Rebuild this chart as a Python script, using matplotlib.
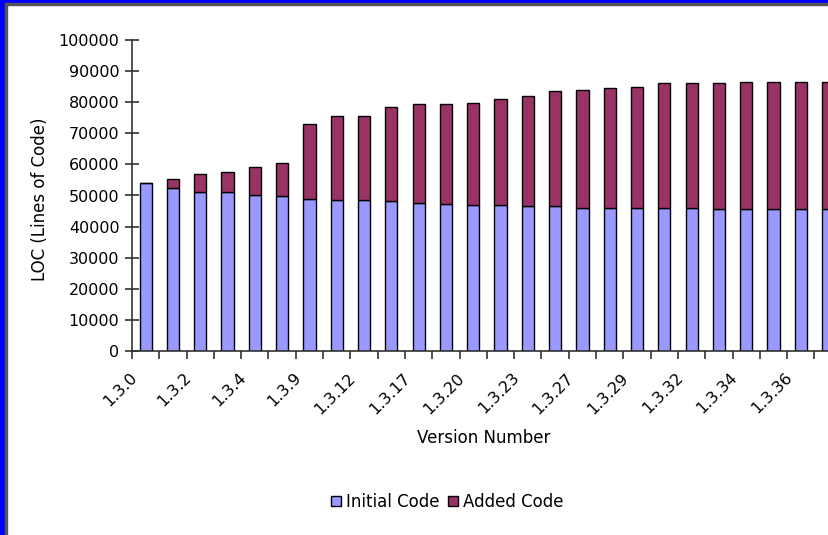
import numpy as np
import matplotlib.pyplot as plt
from matplotlib.patches import Rectangle
from matplotlib.transforms import ScaledTranslation

versions = ['1.3.0', '1.3.1', '1.3.2', '1.3.3', '1.3.4', '1.3.8', '1.3.9', '1.3.10',
            '1.3.12', '1.3.15', '1.3.17', '1.3.19', '1.3.20', '1.3.22', '1.3.23', '1.3.26',
            '1.3.27', '1.3.28', '1.3.29', '1.3.31', '1.3.32', '1.3.33', '1.3.34', '1.3.35',
            '1.3.36', '1.3.37']
shown = ['1.3.0', '1.3.2', '1.3.4', '1.3.9', '1.3.12', '1.3.17', '1.3.20', '1.3.23',
         '1.3.27', '1.3.29', '1.3.32', '1.3.34', '1.3.36']
initial_code = [54100, 52400, 51000, 51000, 50300, 49800, 49000, 48500, 48500, 48100,
                47700, 47400, 47000, 47000, 46500, 46500, 46100, 46100, 46100, 46100,
                46100, 45700, 45700, 45700, 45700, 45700]
total_code = [54100, 55400, 57000, 57500, 59200, 60400, 73000, 75600, 75600, 78600,
              79400, 79400, 79900, 81100, 82000, 83600, 84000, 84500, 84900, 86200,
              86200, 86200, 86600, 86600, 86600, 86600]
added_code = [t - i for t, i in zip(total_code, initial_code)]

plt.rcParams['font.family'] = ['DejaVu Sans']
fig = plt.figure(figsize=(8.29, 5.35), dpi=100)

# blue frame on the left and top edge
fig.patches.append(Rectangle((0, 0), 5 / 829, 1, transform=fig.transFigure, color='#0000ff', zorder=10))
fig.patches.append(Rectangle((0, 1 - 3 / 535), 1, 3 / 535, transform=fig.transFigure, color='#0000ff', zorder=10))
fig.patches.append(Rectangle((5 / 829, 0), 2 / 829, 1 - 3 / 535, transform=fig.transFigure, color='#555555', zorder=10))
fig.patches.append(Rectangle((5 / 829, 1 - 5 / 535), 1, 2 / 535, transform=fig.transFigure, color='#555555', zorder=10))

ncat = 28
cat_w = 27.3
ax = fig.add_axes([132 / 829, 184 / 535, ncat * cat_w / 829, 311 / 535])

x = np.arange(len(versions))
ax.bar(x, initial_code, width=0.45, color='#9999ff', edgecolor='black', linewidth=1, label='Initial Code')
ax.bar(x, added_code, width=0.45, bottom=initial_code, color='#993366', edgecolor='black',
       linewidth=1, label='Added Code')

ax.set_xlim(-0.5, ncat - 0.5)
ax.set_ylim(0, 100000)
for s in ['top', 'right']:
    ax.spines[s].set_visible(False)
for s in ['left', 'bottom']:
    ax.spines[s].set_color('#333333')
    ax.spines[s].set_linewidth(1.2)

ax.set_yticks(np.arange(0, 100001, 10000))
ax.tick_params(axis='y', direction='inout', length=10, width=1.2, color='#333333', labelsize=11.5, pad=4)

ax.set_xticks(np.arange(-0.5, ncat, 1))
ax.set_xticklabels([])
ax.tick_params(axis='x', which='major', direction='out', length=6, width=1.2, color='#333333')
label_pos = [versions.index(v) for v in shown]
ax.set_xticks(label_pos, minor=True)
ax.set_xticklabels(shown, minor=True, rotation=45, ha='right', va='center', rotation_mode='anchor')
ax.tick_params(axis='x', which='minor', length=0, labelsize=11.5, pad=14)
shift = ScaledTranslation(-11 / 100, -5 / 100, fig.dpi_scale_trans)
for lbl in ax.get_xticklabels(minor=True):
    lbl.set_transform(lbl.get_transform() + shift)

fig.text(40 / 829, 1 - 199 / 535, 'LOC (Lines of Code)', rotation=90, ha='center', va='center', fontsize=12)
fig.text(484 / 829, 1 - 438 / 535, 'Version Number', ha='center', va='center', fontsize=12)

fig.legend(loc='center', bbox_to_anchor=(447 / 829, 1 - 502 / 535), ncol=2, frameon=False,
           fontsize=12, handlelength=0.6, handleheight=0.6, handletextpad=0.3, columnspacing=0.5)

fig.savefig('out.png', dpi=100)
